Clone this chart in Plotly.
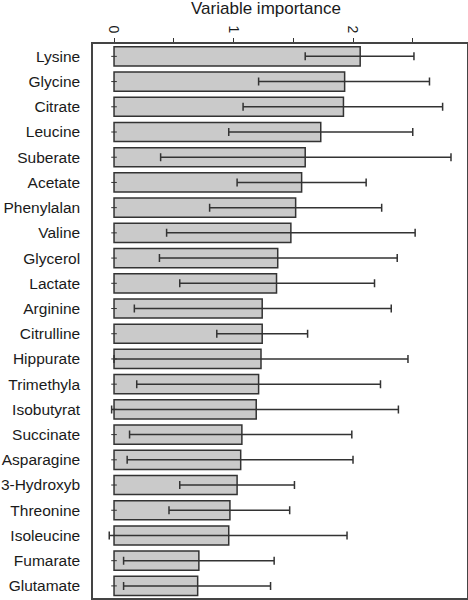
import plotly.graph_objects as go

variables = ["Lysine", "Glycine", "Citrate", "Leucine", "Suberate", "Acetate",
             "Phenylalan", "Valine", "Glycerol", "Lactate", "Arginine", "Citrulline",
             "Hippurate", "Trimethyla", "Isobutyrat", "Succinate", "Asparagine",
             "3-Hydroxyb", "Threonine", "Isoleucine", "Fumarate", "Glutamate"]
importance = [2.06, 1.93, 1.92, 1.73, 1.60, 1.57, 1.52, 1.48, 1.37, 1.36, 1.24, 1.24,
              1.23, 1.21, 1.19, 1.07, 1.06, 1.03, 0.97, 0.96, 0.71, 0.70]
lower = [1.60, 1.21, 1.08, 0.96, 0.39, 1.03, 0.80, 0.44, 0.38, 0.55, 0.17, 0.86,
         0.00, 0.19, -0.02, 0.13, 0.11, 0.55, 0.46, -0.04, 0.08, 0.08]
upper = [2.51, 2.64, 2.75, 2.50, 2.82, 2.11, 2.24, 2.52, 2.37, 2.18, 2.32, 1.62,
         2.46, 2.23, 2.38, 1.99, 2.00, 1.51, 1.47, 1.95, 1.34, 1.31]
tick_values = [0, 0.5, 1, 1.5, 2, 2.5]
tick_labels = ["0", "", "1", "", "2", ""]

plus = [u - v for u, v in zip(upper, importance)]
minus = [v - l for v, l in zip(importance, lower)]

fig = go.Figure()
fig.add_trace(go.Bar(
    x=importance, y=variables, orientation="h", width=0.76,
    marker=dict(color="#cacaca", line=dict(color="#333333", width=1.5)),
    error_x=dict(type="data", symmetric=False, array=plus, arrayminus=minus,
                 color="#333333", thickness=1.5, width=4),
    showlegend=False,
))
fig.add_trace(go.Scatter(
    x=[0] * len(variables), y=variables, mode="markers",
    marker=dict(symbol="line-ew", size=4, line=dict(color="#333333", width=1)),
    showlegend=False, hoverinfo="skip",
))

fig.update_layout(
    width=468, height=600,
    margin=dict(l=93, r=1, t=44, b=2),
    paper_bgcolor="white", plot_bgcolor="white",
    font=dict(family="Liberation Sans, Arial, sans-serif", color="#1a1a1a"),
    title=dict(text="Variable importance", x=266 / 468, xanchor="center",
               y=0.996, yanchor="top", font=dict(size=17, color="#1a1a1a")),
    bargap=0.24,
)
fig.update_xaxes(
    side="top", range=[-0.176, 2.954], tickvals=tick_values, ticktext=tick_labels,
    tickangle=90, ticks="outside", ticklen=4, tickcolor="#333333", tickwidth=1,
    tickfont=dict(size=14, color="#1a1a1a"), automargin=False,
    showgrid=False, zeroline=False,
    showline=True, mirror=True, linecolor="#444444", linewidth=1.5,
)
fig.update_yaxes(
    range=[21.48, -0.49], showgrid=False, zeroline=False, ticks="",
    tickfont=dict(size=15.5, color="#1a1a1a"), ticklabelstandoff=8, automargin=False,
    showline=True, mirror=True, linecolor="#444444", linewidth=1.5,
)

fig.write_html("out.html", config={"displayModeBar": False},
               post_script="document.body.style.margin='0';")
